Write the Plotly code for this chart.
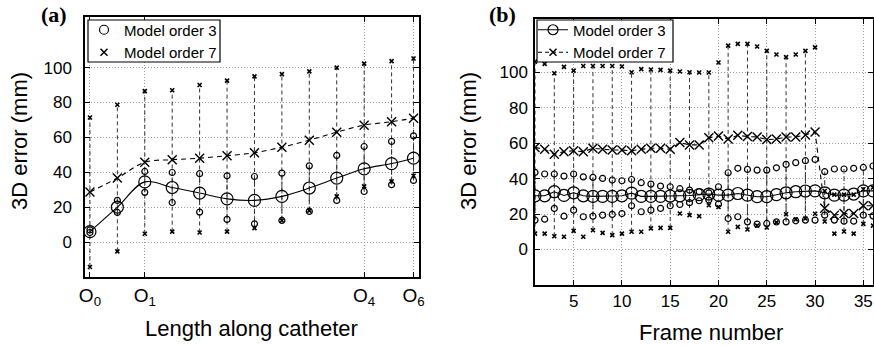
import plotly.graph_objects as go

# ---------------- Panel (a): error along catheter ----------------
a_pos = [0, 10, 20, 30, 40, 50, 60, 70, 80, 90, 100, 110, 118]
a_tickvals = [0, 20, 100, 118]
a_ticktext = ["O<sub>0</sub>", "O<sub>1</sub>", "O<sub>4</sub>", "O<sub>6</sub>"]
a_m3_mean = [6, 20, 34.5, 31.3, 28.1, 24.8, 23.9, 26.2, 31, 36.7, 42, 45, 48.1]
a_m3_upper = [7, 23.9, 40.5, 39.9, 39.2, 38, 37.6, 39.5, 43.7, 49.7, 54.8, 57.7, 60.9]
a_m3_lower = [5.5, 17, 28.5, 22.7, 17.2, 13, 10.5, 12.4, 17.6, 23.9, 29, 32.9, 35.3]
a_m7_mean = [28.7, 36.7, 45.8, 47.2, 48.1, 49.5, 51.2, 54.4, 58.4, 63, 67, 69, 71]
a_m7_max = [71.4, 78.7, 86.5, 87, 90, 92.5, 95, 96.3, 97.8, 100, 102.3, 103.7, 105.2]
a_m7_min = [-14.3, -5.3, 4.8, 6, 5.5, 6, 8, 12.4, 18, 26.2, 31.9, 34.8, 38]

# ---------------- Panel (b): error per frame ----------------
b_frame = list(range(1, 37))
b_m3_mean = [30.3, 30.3, 32.6, 30.5, 32, 30.3, 30, 30, 30, 30.3, 31.8, 30, 30, 30, 30.2, 30.3, 30.5, 31,
             31.3, 30.7, 30.7, 31.6, 30.7, 29.8, 29.8, 31, 32, 32.6, 33, 33.1, 32, 30.7, 30.7, 31.3, 33.1, 33.1]
b_m3_upper = [43.5, 42.6, 42.6, 41.4, 42.6, 41, 40.7, 40.1, 39.2, 38.8, 39.5, 37.7, 36.9, 35.8, 35.4, 34.3, 33.5, 32.6,
              32, 35.4, 43.3, 45.8, 45.2, 44.8, 44.8, 46.1, 48, 49, 50.1, 50.8, 43.9, 45.4, 45.4, 45.8, 46.3, 47.1]
b_m3_lower = [16.6, 17.1, 23.2, 18.8, 22.2, 18.5, 18.8, 19.4, 19.8, 20.3, 24.7, 21.3, 22.2, 23.2, 24.7, 25.4, 26.4, 27.5,
              27.9, 25.6, 17.5, 18.5, 15.6, 14.3, 14.7, 15.6, 15.6, 16.2, 16.6, 16.6, 19.4, 16.6, 16, 16, 19.4, 19]
b_m7_mean = [57.6, 56.5, 53.7, 55.2, 55.7, 55.2, 57.1, 56.5, 56.1, 56.1, 55.7, 56.5, 57.1, 57.1, 56.5, 60.3, 59, 59,
             63, 64, 62.3, 64.4, 63.7, 63.5, 62, 62.3, 63.5, 63.5, 64.6, 66.3, 23.3, 19.4, 20.3, 20.3, 24.7, 24.7]
b_m7_max = [106, 104.7, 99.4, 103, 100.9, 103.5, 103.5, 103.5, 103.5, 103.2, 100, 101.7, 101.5, 101.3, 100.9, 100.4, 100, 99.8,
            99.8, 105.5, 115, 116, 116, 114.5, 112, 110, 108.5, 110, 112, 114, 33, 31, 31, 31, 34, 35]
b_m7_min = [9, 9, 7.5, 7.2, 10.5, 7.2, 10.9, 9.4, 8.1, 9, 10, 10, 11.9, 12.2, 12.2, 20.3, 19.4, 18.8,
            25, 24, 10, 12.8, 11.3, 13.5, 12.4, 15.3, 19.9, 17, 17.5, 20.2, 15.8, 9, 10.2, 9, 14.5, 13.5]
b_bar_frames = list(range(1, 37, 2))

W, H = 874, 347
FONT = "Liberation Sans, Arial, sans-serif"
SERIF = "Liberation Serif, Times New Roman, serif"


def px(x):
    return x / W


def py(y):
    return 1 - y / H


def vsegs(xs, lo, hi):
    X, Y = [], []
    for x, a, b in zip(xs, lo, hi):
        X += [x, x, None]
        Y += [a, b, None]
    return X, Y


fig = go.Figure()

BAR7 = dict(color="#333333", width=1, dash="4px,3px")
BAR3 = dict(color="#333333", width=1, dash="5px,2px,1px,2px")


def add_panel(xa, ya, xs, m3m, m3u, m3l, m7m, m7x, m7n, bar_idx, shape, big3, big7):
    bx = [xs[i] for i in bar_idx]
    X, Y = vsegs(bx, [m7n[i] for i in bar_idx], [m7x[i] for i in bar_idx])
    fig.add_trace(go.Scatter(x=X, y=Y, mode="lines", line=BAR7, xaxis=xa, yaxis=ya,
                             showlegend=False, hoverinfo="skip"))
    X, Y = vsegs(bx, [m3l[i] for i in bar_idx], [m3u[i] for i in bar_idx])
    fig.add_trace(go.Scatter(x=X, y=Y, mode="lines", line=BAR3, xaxis=xa, yaxis=ya,
                             showlegend=False, hoverinfo="skip"))
    for arr in (m7x, m7n):
        fig.add_trace(go.Scatter(x=xs, y=arr, mode="markers", xaxis=xa, yaxis=ya,
                                 marker=dict(symbol="x-thin", size=4, line=dict(width=1.6, color="black")),
                                 showlegend=False, hoverinfo="skip"))
    for arr in (m3u, m3l):
        fig.add_trace(go.Scatter(x=xs, y=arr, mode="markers", xaxis=xa, yaxis=ya,
                                 marker=dict(symbol="circle-open", size=6, color="black", line=dict(width=1.2)),
                                 showlegend=False, hoverinfo="skip"))
    fig.add_trace(go.Scatter(x=xs, y=m7m, mode="lines+markers", xaxis=xa, yaxis=ya,
                             line=dict(color="black", width=1.1, dash="5px,4px", shape=shape),
                             marker=dict(symbol="x-thin", size=big7, line=dict(width=1.4, color="black")),
                             showlegend=False, hoverinfo="skip"))
    fig.add_trace(go.Scatter(x=xs, y=m3m, mode="lines+markers", xaxis=xa, yaxis=ya,
                             line=dict(color="black", width=1.1, shape=shape),
                             marker=dict(symbol="circle-open", size=big3, color="black", line=dict(width=1.2)),
                             showlegend=False, hoverinfo="skip"))


add_panel("x", "y", a_pos, a_m3_mean, a_m3_upper, a_m3_lower, a_m7_mean, a_m7_max, a_m7_min,
          list(range(len(a_pos))), "spline", 12, 9)
add_panel("x2", "y2", b_frame, b_m3_mean, b_m3_upper, b_m3_lower, b_m7_mean, b_m7_max, b_m7_min,
          [f - 1 for f in b_bar_frames], "linear", 12, 9)

fig.add_trace(go.Scatter(x=[None], y=[None], mode="markers", name="Model order 3", legend="legend",
                         marker=dict(symbol="circle-open", size=9, color="black", line=dict(width=1.2))))
fig.add_trace(go.Scatter(x=[None], y=[None], mode="markers", name="Model order 7", legend="legend",
                         marker=dict(symbol="x-thin", size=7, line=dict(width=1.5, color="black"))))
fig.add_trace(go.Scatter(x=[None], y=[None], mode="lines+markers", name="Model order 3", legend="legend2",
                         xaxis="x2", yaxis="y2",
                         line=dict(color="black", width=1.2),
                         marker=dict(symbol="circle-open", size=10, color="black", line=dict(width=1.2))))
fig.add_trace(go.Scatter(x=[None], y=[None], mode="lines+markers", name="Model order 7", legend="legend2",
                         xaxis="x2", yaxis="y2",
                         line=dict(color="black", width=1.2, dash="4px,3px"),
                         marker=dict(symbol="x-thin", size=7, line=dict(width=1.5, color="black"))))

axis_common = dict(showline=True, linecolor="black", linewidth=1.5, mirror="ticks", ticks="inside",
                   ticklen=5, tickcolor="black", showgrid=True, gridcolor="#9a9a9a", griddash="1px,2px",
                   gridwidth=1, zeroline=False, automargin=False,
                   tickfont=dict(family=FONT, size=17, color="black"))


def ann(text, x, y, size, angle=0, family=FONT):
    return dict(text=text, x=px(x), y=py(y), xref="paper", yref="paper", showarrow=False,
                xanchor="center", yanchor="middle", textangle=angle,
                font=dict(family=family, size=size, color="black"))


def box(x0, y0, x1, y1):
    return dict(type="rect", xref="paper", yref="paper", x0=px(x0), x1=px(x1), y0=py(y1), y1=py(y0),
                line=dict(color="black", width=1.2), fillcolor="white", layer="above")


LEG = dict(xanchor="left", yanchor="middle", bgcolor="rgba(0,0,0,0)", borderwidth=0,
           font=dict(family=FONT, size=15, color="black"), itemwidth=30, tracegroupgap=0)

fig.update_layout(
    template="none",
    width=W, height=H, margin=dict(l=0, r=0, t=0, b=0, pad=0, autoexpand=False),
    paper_bgcolor="white", plot_bgcolor="white",
    font=dict(family=FONT, color="black"),
    xaxis=dict(domain=[px(85), px(419)], range=[-1.8, 120], tickvals=a_tickvals, ticktext=a_ticktext,
               anchor="y", ticklabelstandoff=0, **{**axis_common, "tickfont": dict(family=FONT, size=19, color="black")}),
    yaxis=dict(domain=[py(277), py(17)], range=[-20, 129], tickvals=[0, 20, 40, 60, 80, 100],
               anchor="x", ticklabelstandoff=8, **axis_common),
    xaxis2=dict(domain=[px(535), px(873)], range=[1, 36], tickvals=[5, 10, 15, 20, 25, 30, 35],
                anchor="y2", ticklabelstandoff=0, **axis_common),
    yaxis2=dict(domain=[py(285), py(19)], range=[-20, 130], tickvals=[0, 20, 40, 60, 80, 100],
                anchor="x2", ticklabelstandoff=2, **axis_common),
    legend=dict(x=px(84), y=py(41), **LEG),
    legend2=dict(x=px(533), y=py(41), **LEG),
    showlegend=True,
    shapes=[box(88, 20, 220, 62), box(537, 20, 673, 62)],
    annotations=[
        ann("<b>(a)</b>", 54, 15, 22, family=SERIF),
        ann("<b>(b)</b>", 502, 15, 22, family=SERIF),
        ann("Length along catheter", 251, 328, 22),
        ann("Frame number", 711, 332, 22),
        ann("3D error (mm)", 19, 141, 22, angle=-90),
        ann("3D error (mm)", 468, 141, 22, angle=-90),
    ],
)

fig.write_html("out.html", config={"displayModeBar": False},
               post_script="document.body.style.margin='0px';")
